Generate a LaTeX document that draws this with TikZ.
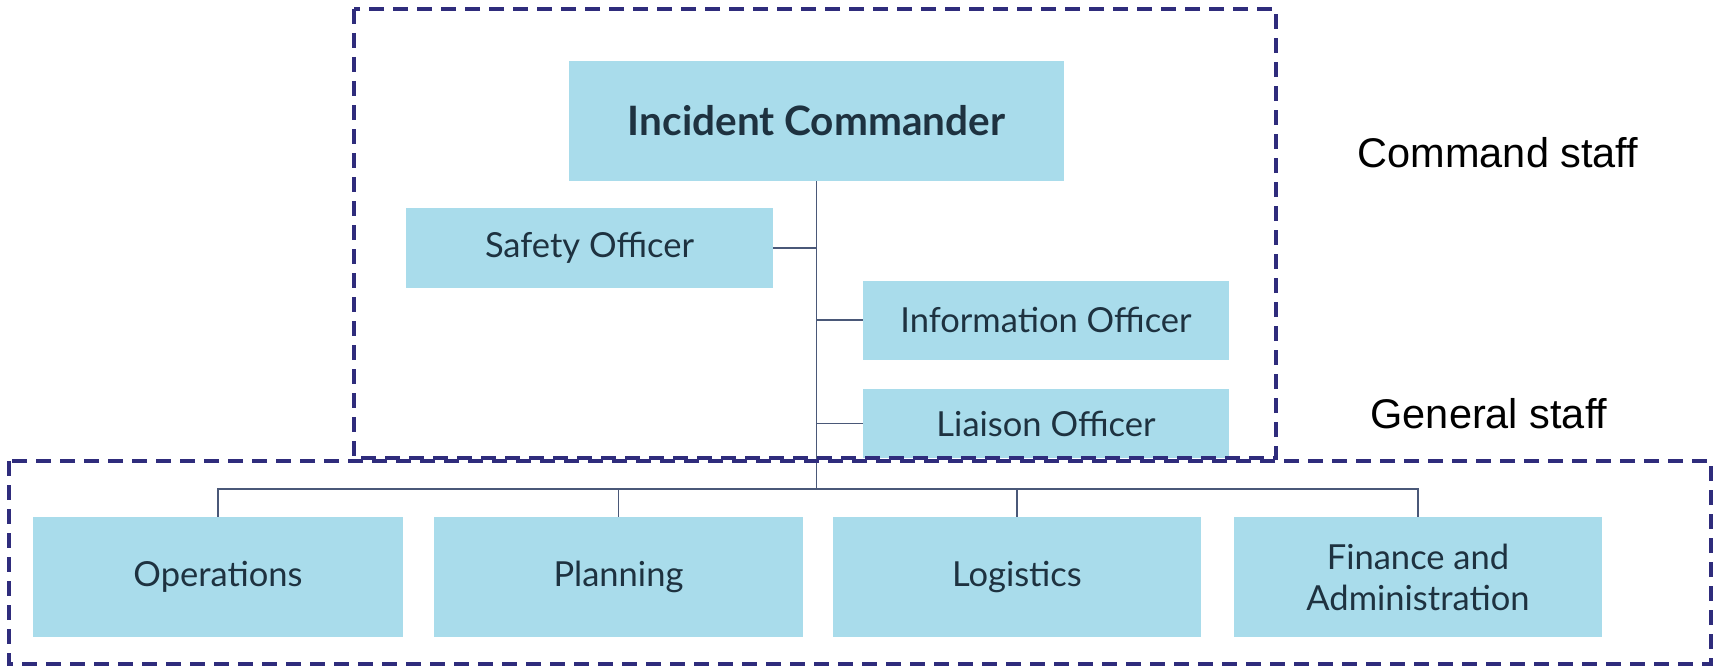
\documentclass[tikz,border=0pt]{standalone}
\usepackage{fontspec}
\setmainfont{Lato}
\newfontfamily\arialfont{Liberation Sans}
\definecolor{boxblue}{HTML}{A9DCEB}
\definecolor{dashnavy}{HTML}{2F2C7C}
\definecolor{linegray}{HTML}{4A5878}
\definecolor{txtcol}{HTML}{1E3240}
\tikzset{
  box/.style={fill=boxblue, draw=none, inner sep=0pt, align=center, text=txtcol,
    font=\fontsize{34.5}{41}\selectfont},
  conn/.style={draw=linegray, line width=1.8pt},
  group/.style={draw=dashnavy, line width=3.8pt, dash pattern=on 15pt off 9pt},
  staff/.style={font=\arialfont\fontsize{41.5}{46}\selectfont, text=black, inner sep=0pt}
}
\begin{document}
\begin{tikzpicture}[x=1pt,y=-1pt]
\useasboundingbox (0,0) rectangle (1717,669);
% boxes
\node[box, minimum width=495pt, minimum height=120pt, font=\bfseries\fontsize{40.5}{46}\selectfont] (ic) at (816.5,121) {Incident Commander};
\node[box, minimum width=367pt, minimum height=80pt] (safety) at (589.5,248) {Safety Officer};
\node[box, minimum width=366pt, minimum height=79pt] (info) at (1046,320) {Information Officer};
\node[box, minimum width=366pt, minimum height=69pt] (liaison) at (1046,423.5) {Liaison Officer};
\node[box, minimum width=370pt, minimum height=120pt] (ops) at (218,577) {Operations};
\node[box, minimum width=369pt, minimum height=120pt] (plan) at (618.5,577) {Planning};
\node[box, minimum width=368pt, minimum height=120pt] (log) at (1017,577) {Logistics};
\node[box, minimum width=368pt, minimum height=120pt] (fin) at (1418,577) {Finance and\\Administration};
% connectors
\coordinate (busc) at (ic.south |- 0,489);
\draw[conn] (ic.south) -- (busc);
\draw[conn] (safety.east) -- (safety.east -| ic.south);
\draw[conn] (info.west -| ic.south) -- (info.west);
\draw[conn] (liaison.west -| ic.south) -- (liaison.west);
\draw[conn] (ops.north) -- (ops.north |- busc) -- (fin.north |- busc) -- (fin.north);
\draw[conn] (plan.north) -- (plan.north |- busc);
\draw[conn] (log.north) -- (log.north |- busc);
% groups
\coordinate (g1a) at (354,9);
\coordinate (g1b) at (1276,458);
\coordinate (g2a) at (9,461);
\coordinate (g2b) at (1711,664);
\draw[group] (g1a) rectangle (g1b);
\draw[group] (g2a) rectangle (g2b);
% labels
\node[staff] (cmd) at (1498,153) {Command staff};
\node[staff] (gen) at (1489,414) {General staff};
\end{tikzpicture}
\end{document}
